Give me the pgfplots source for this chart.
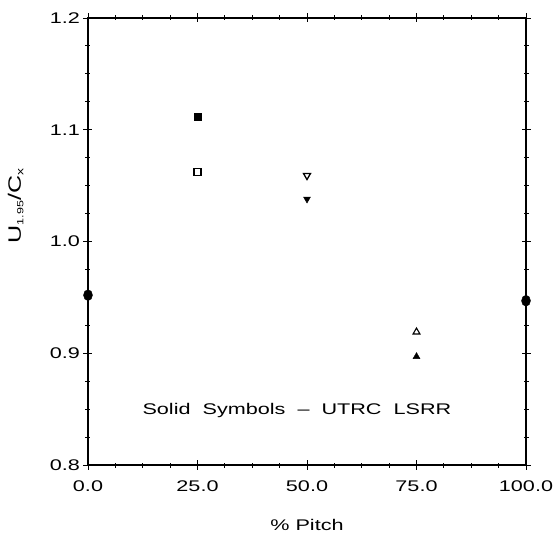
\documentclass[border=0pt]{standalone}
\usepackage{fontspec}
\setmainfont{Liberation Sans}[FakeStretch=1.4]
\usepackage{pgfplots}
\pgfplotsset{compat=1.18}
\begin{document}
\begin{tikzpicture}
\begin{axis}[
  name=ax,
  scale only axis,
  width=438bp, height=447bp,
  xmin=0, xmax=100, ymin=0.8, ymax=1.2,
  xtick={0,25,50,75,100},
  ytick={0.8,0.9,1.0,1.1,1.2},
  minor xtick={6.25,12.5,18.75,31.25,37.5,43.75,56.25,62.5,68.75,81.25,87.5,93.75},
  minor ytick={0.825,0.85,0.875,0.925,0.95,0.975,1.025,1.05,1.075,1.125,1.15,1.175},
  xticklabel style={/pgf/number format/.cd,fixed,fixed zerofill,precision=1},
  yticklabel style={/pgf/number format/.cd,fixed,fixed zerofill,precision=1},
  /pgf/number format/assume math mode=true,
  tick align=center,
  major tick length=9bp,
  minor tick length=5bp,
  tick style={black, line width=0.9pt},
  axis line style={line width=1.1pt},
  every tick label/.append style={font=\fontsize{15.5}{17}\selectfont},
  xticklabel shift=8bp,
  yticklabel shift=0bp,
  xlabel={\% Pitch},
  ylabel={U\textsubscript{\fontsize{9}{10}\selectfont 1.95}/C\textsubscript{\fontsize{10}{11}\selectfont x}},
  xlabel style={font=\fontsize{15.5}{17}\selectfont, at={(axis description cs:0.5,-0.135)}, anchor=center},
  ylabel style={font=\fontsize{18}{20}\selectfont, at={(axis description cs:-0.165,0.58)}, anchor=center},
  clip=false,
]
\addplot[only marks, mark=*, mark options={fill=black, xscale=0.9, yscale=1.1}, mark size=5bp]
  coordinates {(0,0.952) (100,0.947)};
\addplot[only marks, mark=square*, mark options={fill=black}, mark size=3.5bp]
  coordinates {(25,1.112)};
\addplot[only marks, mark=square, mark options={line width=1.3pt}, mark size=3.5bp]
  coordinates {(25,1.062)};
\addplot[only marks, mark=triangle, mark options={rotate=180, line width=1.3pt}, mark size=4bp]
  coordinates {(50,1.059)};
\addplot[only marks, mark=triangle*, mark options={rotate=180, fill=black}, mark size=4bp]
  coordinates {(50,1.038)};
\addplot[only marks, mark=triangle, mark options={line width=1.1pt}, mark size=4bp]
  coordinates {(75,0.919)};
\addplot[only marks, mark=triangle*, mark options={fill=black}, mark size=4bp]
  coordinates {(75,0.897)};
\node[font=\fontsize{15.5}{17}\selectfont] at (axis cs:47.7,0.849) {Solid\ \ Symbols\ \ --\ \ UTRC\ \ LSRR};
\end{axis}
\pgfresetboundingbox
\path[use as bounding box] ([xshift=-88bp,yshift=-75bp]ax.south west) rectangle ([xshift=31bp,yshift=18bp]ax.north east);
\end{tikzpicture}
\end{document}
